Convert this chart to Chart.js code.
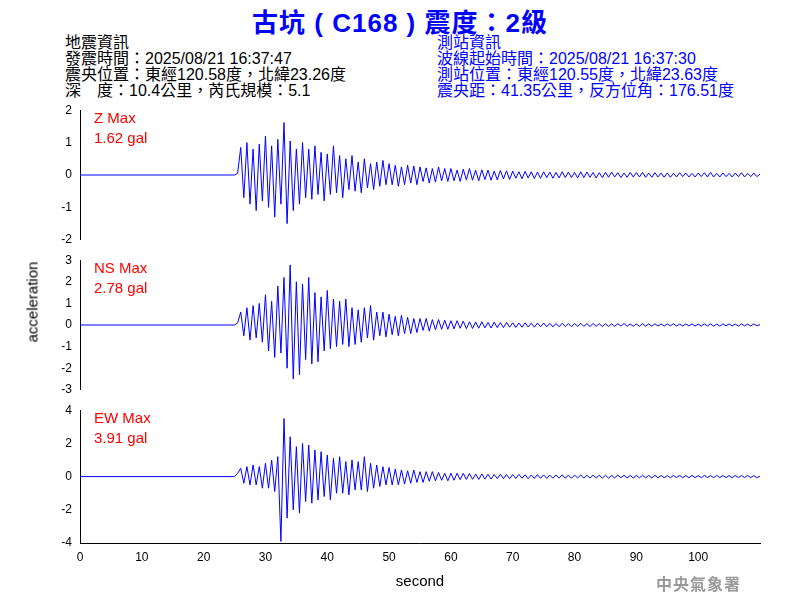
<!DOCTYPE html>
<html>
<head>
<meta charset="utf-8">
<script src="https://cdn.jsdelivr.net/npm/chart.js@4/dist/chart.umd.min.js"></script>
<style>
  body { margin: 0; width: 800px; height: 600px; position: relative; background: #fff; font-family: "Liberation Sans", Arial, sans-serif; overflow: hidden; }
  .abs { position: absolute; white-space: nowrap; }
  #title { left: 0; width: 800px; top: 2px; text-align: center; color: #0000ff; font-size: 26px; font-weight: bold; letter-spacing: 1px; font-family: "Liberation Sans", "Noto Sans CJK TC", sans-serif; }
  .info { font-size: 16px; line-height: 16px; font-family: "Liberation Sans", "Noto Sans CJK TC", sans-serif; }
  .maxlbl { color: #ff0000; font-size: 15px; line-height: 20px; }
  .panel { position: absolute; left: 0; width: 800px; }
</style>
</head>
<body>
<div id="title" class="abs">古坑 ( C168 ) 震度：2級</div>
<div class="abs info" style="left:65px; top:35px; color:#000;">地震資訊<br>發震時間：2025/08/21 16:37:47<br>震央位置：東經120.58度，北緯23.26度<br>深　度：10.4公里，芮氏規模：5.1</div>
<div class="abs info" style="left:437px; top:35px; color:#0000ff;">測站資訊<br>波線起始時間：2025/08/21 16:37:30<br>測站位置：東經120.55度，北緯23.63度<br>震央距：41.35公里，反方位角：176.51度</div>

<div class="panel" style="top:100px; height:150px;"><canvas id="cZ"></canvas></div>
<div class="panel" style="top:250px; height:150px;"><canvas id="cNS"></canvas></div>
<div class="panel" style="top:400px; height:200px;"><canvas id="cEW"></canvas></div>

<div class="abs maxlbl" style="left:94px; top:108px;">Z Max<br>1.62 gal</div>
<div class="abs maxlbl" style="left:94px; top:258px;">NS Max<br>2.78 gal</div>
<div class="abs maxlbl" style="left:94px; top:408px;">EW Max<br>3.91 gal</div>

<div class="abs" style="left:32px; top:302px; transform:translate(-50%,-50%) rotate(-90deg); font-size:15px; color:#000;">acceleration</div>
<div class="abs" style="left:656px; top:571px; font-size:16px; font-weight:bold; color:#999; font-family:'Noto Sans CJK TC', serif; letter-spacing:1px;">中央氣象署</div>

<script>
// sampling of the traces
const T0 = 25;
const DT = 0.5;

const zValues = [0, 0.05,
  0.85,-0.7,1.0,-0.9,0.8,-1.1,0.95,-0.8,
  1.2,-1.0,0.9,-1.3,1.1,-0.9,1.62,-1.5,
  1.05,-1.1,0.8,-0.9,1.0,-0.7,0.8,-0.75,
  0.9,-0.6,0.7,-0.8,0.65,-0.6,0.9,-0.55,
  0.6,-0.7,0.5,-0.45,0.6,-0.5,0.4,-0.55,
  0.5,-0.4,0.35,-0.45,0.4,-0.35,0.45,-0.3,
  0.35,-0.3,0.3,-0.35,0.25,-0.3,0.3,-0.25,0.28,-0.3,
  0.25,-0.2,0.22,-0.25,0.2,-0.22,0.25,-0.18,0.2,-0.2,
  0.2,-0.18,0.15,-0.2,0.18,-0.15,0.2,-0.16,0.15,-0.18,
  0.16,-0.14,0.15,-0.16,0.12,-0.15,0.14,-0.12,0.13,-0.14,
  0.12,-0.1,0.1,-0.12,0.11,-0.09,0.1,-0.11,0.09,-0.1,
  0.1,-0.08,0.09,-0.1,0.08,-0.09,0.1,-0.08,0.09,-0.08,
  0.08,-0.09,0.1,-0.08,0.09,-0.07,0.08,-0.09,0.07,-0.08,
  0.08,-0.07,0.09,-0.06,0.07,-0.08,0.06,-0.07,0.08,-0.06,
  0.07,-0.06,0.08,-0.07,0.06,-0.07,0.07,-0.06,0.06,-0.07,
  0.06,-0.07,0.05,-0.06,0.07,-0.05,0.06,-0.06,0.05,-0.06,
  0.06,-0.05,0.07,-0.06,0.08,-0.06,0.05,-0.06,0.06,-0.05,
  0.05,-0.06,0.06,-0.05,0.07,-0.06,0.05,-0.05,0.06,-0.05, 0.03];

const nsValues = [0, 0.1,
  0.6,-0.5,0.8,-0.7,0.9,-0.6,1.0,-0.8,
  1.4,-1.2,1.1,-1.5,1.8,-1.3,2.2,-2.0,
  2.78,-2.5,2.0,-2.3,1.9,-1.6,2.2,-1.8,
  1.5,-1.7,1.3,-1.2,1.6,-1.1,1.2,-1.0,
  1.1,-0.9,1.2,-1.0,0.8,-0.9,0.7,-0.8,
  0.8,-0.6,0.9,-0.7,0.6,-0.5,0.6,-0.55,
  0.5,-0.45,0.4,-0.5,0.45,-0.4,0.35,-0.4,0.3,-0.35,
  0.3,-0.25,0.3,-0.28,0.25,-0.22,0.25,-0.2,0.22,-0.2,
  0.2,-0.18,0.2,-0.15,0.18,-0.17,0.15,-0.16,0.14,-0.15,
  0.15,-0.13,0.12,-0.14,0.13,-0.12,0.11,-0.12,0.12,-0.1,
  0.1,-0.11,0.09,-0.1,0.1,-0.09,0.08,-0.1,0.09,-0.08,
  0.09,-0.08,0.08,-0.09,0.07,-0.08,0.08,-0.07,0.07,-0.08,
  0.07,-0.06,0.08,-0.07,0.06,-0.07,0.07,-0.06,0.06,-0.07,
  0.06,-0.07,0.05,-0.06,0.06,-0.05,0.07,-0.06,0.05,-0.06,
  0.05,-0.06,0.06,-0.05,0.05,-0.06,0.06,-0.05,0.05,-0.05,
  0.05,-0.04,0.06,-0.05,0.04,-0.05,0.05,-0.04,0.05,-0.05,
  0.04,-0.05,0.05,-0.04,0.05,-0.05,0.04,-0.05,0.05,-0.04,
  0.05,-0.04,0.04,-0.05,0.05,-0.04,0.04,-0.05,0.05,-0.04, 0.02];

const ewValues = [0, 0.2,
  0.5,-0.4,0.6,-0.5,0.7,-0.5,0.6,-0.7,
  0.8,-0.7,1.0,-0.9,1.2,-3.91,3.5,-2.5,
  2.4,-2.0,1.8,-2.2,2.0,-1.5,1.9,-1.6,
  1.6,-1.4,1.5,-1.2,1.3,-1.4,1.1,-1.0,
  1.2,-1.0,0.9,-1.1,1.0,-0.8,0.9,-0.8,
  1.2,-0.9,0.8,-0.7,0.7,-0.6,0.6,-0.5,
  0.55,-0.5,0.45,-0.5,0.4,-0.45,0.35,-0.4,0.4,-0.35,
  0.3,-0.35,0.3,-0.28,0.3,-0.25,0.25,-0.22,0.2,-0.25,
  0.2,-0.22,0.2,-0.18,0.2,-0.17,0.18,-0.16,0.15,-0.17,
  0.16,-0.15,0.14,-0.15,0.13,-0.12,0.14,-0.12,0.12,-0.13,
  0.12,-0.11,0.13,-0.1,0.11,-0.12,0.1,-0.11,0.12,-0.1,
  0.1,-0.11,0.09,-0.1,0.1,-0.09,0.11,-0.1,0.09,-0.1,
  0.09,-0.08,0.1,-0.09,0.08,-0.09,0.09,-0.08,0.08,-0.09,
  0.08,-0.09,0.07,-0.08,0.09,-0.07,0.08,-0.08,0.07,-0.08,
  0.07,-0.08,0.08,-0.07,0.07,-0.08,0.08,-0.07,0.07,-0.07,
  0.06,-0.07,0.07,-0.06,0.07,-0.07,0.06,-0.07,0.07,-0.06,
  0.06,-0.07,0.07,-0.06,0.06,-0.07,0.07,-0.06,0.06,-0.06,
  0.06,-0.07,0.07,-0.06,0.06,-0.06,0.07,-0.06,0.06,-0.07, 0.03];

const xTicks = [0, 10, 20, 30, 40, 50, 60, 70, 80, 90, 100];

function toPoints(values) {
  const pts = [{ x: 0, y: 0 }];
  values.forEach((v, i) => pts.push({ x: T0 + i * DT, y: v }));
  return pts;
}

function makeChart(id, values, yMax, yStep, showX) {
  const ctx = document.getElementById(id).getContext('2d');
  return new Chart(ctx, {
    type: 'line',
    data: {
      datasets: [{
        data: toPoints(values),
        borderColor: '#0000ff',
        borderWidth: 1,
        pointRadius: 0,
        tension: 0
      }]
    },
    options: {
      responsive: true,
      maintainAspectRatio: false,
      animation: false,
      layout: { padding: { top: 7, bottom: 7, left: 0, right: 40 } },
      plugins: { legend: { display: false }, tooltip: { enabled: false } },
      scales: {
        x: {
          type: 'linear', min: 0, max: 110,
          display: showX,
          grid: { display: false, drawTicks: true, tickLength: 5, color: '#000' },
          border: { color: '#000' },
          afterBuildTicks: s => { s.ticks = xTicks.map(v => ({ value: v })); },
          afterFit: s => { if (showX) s.height = 50; },
          ticks: { color: '#000', font: { size: 12 }, maxRotation: 0, padding: 2 },
          title: { display: true, text: 'second', color: '#000', font: { size: 15 }, padding: 2 }
        },
        y: {
          min: -yMax, max: yMax,
          grid: { display: false, drawTicks: true, tickLength: 5, color: '#000' },
          border: { color: '#000' },
          afterFit: s => { s.width = 80; },
          ticks: { stepSize: yStep, autoSkip: false, color: '#000', font: { size: 12 }, padding: 3 }
        }
      }
    }
  });
}

makeChart('cZ', zValues, 2, 1, false);
makeChart('cNS', nsValues, 3, 1, false);
makeChart('cEW', ewValues, 4, 2, true);
</script>
</body>
</html>
